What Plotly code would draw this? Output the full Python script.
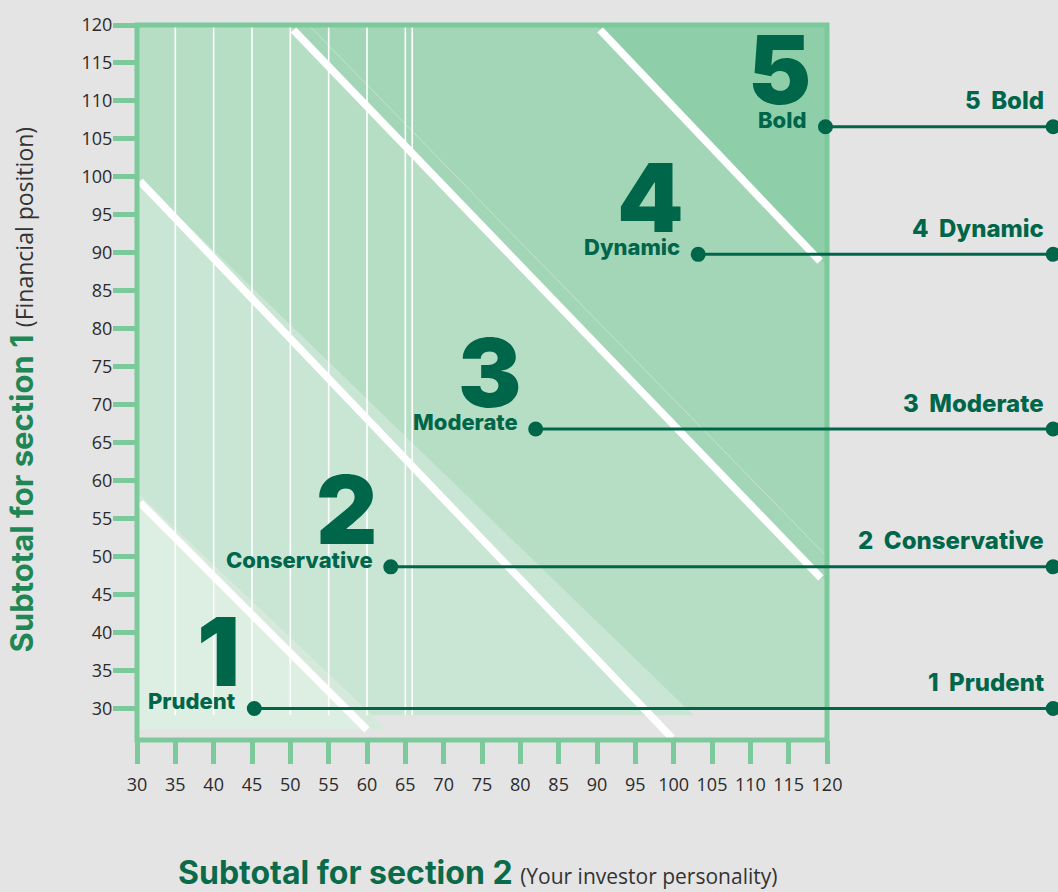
import plotly.graph_objects as go

# ---------------- data ----------------
x_ticks = list(range(30, 125, 5))
y_ticks = list(range(30, 125, 5))
X_RANGE = [30, 120]
Y_RANGE = [25.85, 120]

levels = ["Prudent", "Conservative", "Moderate", "Dynamic", "Bold"]
level_nums = ["1", "2", "3", "4", "5"]
dot_x = [45.3, 63.1, 82.0, 103.2, 119.8]
dot_y = [30.0, 48.65, 66.8, 89.8, 106.6]
leader_end_x = 149.5
right_label_x = 148.6

# zone polygons (data coordinates)
zone3_x = [30, 120, 120, 30]
zone3_y = [30, 30, 120, 120]
zone4_x = [49.9, 120, 120]
zone4_y = [120, 120, 46.6]
zone5_x = [89.9, 120, 120]
zone5_y = [120, 120, 88.3]
zone2_x = [30, 30, 102.6]
zone2_y = [100.1, 29.1, 29.1]
zone1s_x = [30, 30, 62.6]
zone1s_y = [58.5, 27.26, 27.26]
zone1_x = [30, 30, 60.4]
zone1_y = [57.6, 27.26, 27.26]

# white diagonal dividers: (x0, y0, x1, y1)
div_x0 = [30.4, 30.4, 50.4, 90.4]
div_y0 = [57.1, 99.4, 119.35, 119.35]
div_x1 = [60.0, 99.8, 119.2, 119.1]
div_y1 = [27.2, 26.1, 47.2, 88.9]

# faint edge next to divider 3
faint_x = [52.4, 120.0]
faint_y = [120.0, 50.0]

grid_x = [35, 40, 45, 50, 55, 60, 65, 65.9]
grid_y0 = 29.1
grid_y1 = 120

# ---------------- styles ----------------
BG = "#e4e4e4"
AXIS_GREEN = "#7cc99b"
DARK = "#00664a"
C1 = "#ddeee2"
C1S = "#d5eadb"
C2 = "#c9e5d4"
C3 = "#b6dec5"
C4 = "#a3d5b7"
C5 = "#8ecfa9"
HEAVY = "Inter"

L, R, T, B = 137, 231, 20, 152

fig = go.Figure()


def poly(xs, ys, color):
    fig.add_trace(go.Scatter(x=xs + [xs[0]], y=ys + [ys[0]], fill="toself",
                             fillcolor=color, mode="lines", line=dict(width=0),
                             hoverinfo="skip", showlegend=False))


poly(zone3_x, zone3_y, C3)
poly(zone4_x, zone4_y, C4)
poly(zone5_x, zone5_y, C5)
poly(zone2_x, zone2_y, C2)
poly(zone1s_x, zone1s_y, C1S)
poly(zone1_x, zone1_y, C1)

gx, gy = [], []
for v in grid_x:
    gx += [v, v, None]
    gy += [grid_y0, grid_y1, None]
fig.add_trace(go.Scatter(x=gx, y=gy, mode="lines",
                         line=dict(color="white", width=1.6),
                         hoverinfo="skip", showlegend=False))

fig.add_trace(go.Scatter(x=faint_x, y=faint_y, mode="lines",
                         line=dict(color="rgba(255,255,255,0.35)", width=1),
                         hoverinfo="skip", showlegend=False))

dx, dy = [], []
for a, b, c, d in zip(div_x0, div_y0, div_x1, div_y1):
    dx += [a, c, None]
    dy += [b, d, None]
fig.add_trace(go.Scatter(x=dx, y=dy, mode="lines",
                         line=dict(color="white", width=7.5),
                         hoverinfo="skip", showlegend=False))


def to_paper(v):
    return (v - X_RANGE[0]) / (X_RANGE[1] - X_RANGE[0])


# frame around the plotting area (centred on the axis extremes)
fig.add_shape(type="rect", xref="paper", yref="paper", x0=0, x1=1, y0=0, y1=1,
              line=dict(color=AXIS_GREEN, width=5), fillcolor="rgba(0,0,0,0)",
              layer="above")

# leader lines and dots
for xv, yv in zip(dot_x, dot_y):
    fig.add_shape(type="line", xref="paper", yref="y",
                  x0=to_paper(xv), x1=to_paper(leader_end_x), y0=yv, y1=yv,
                  line=dict(color=DARK, width=3), layer="above")
    for px in (xv, leader_end_x):
        fig.add_shape(type="circle", xref="paper", yref="y",
                      xsizemode="pixel", ysizemode="pixel",
                      xanchor=to_paper(px), yanchor=yv,
                      x0=-7.5, x1=7.5, y0=-7.5, y1=7.5,
                      fillcolor=DARK, line=dict(width=0), layer="above")

# labels inside chart and on the right
for name, num, xv, yv in zip(levels, level_nums, dot_x, dot_y):
    fig.add_annotation(x=xv, y=yv, xref="x", yref="y", text=name, showarrow=False,
                       xanchor="right", yanchor="middle", xshift=-16, yshift=7,
                       font=dict(family=HEAVY, size=22, color=DARK, weight=800))
    fig.add_annotation(x=xv, y=yv, xref="x", yref="y", text=num, showarrow=False,
                       xanchor="right", yanchor="middle", xshift=-12, yshift=57,
                       font=dict(family=HEAVY, size=95, color=DARK, weight=900))
    fig.add_annotation(x=to_paper(right_label_x), y=yv, xref="paper", yref="y",
                       text=num + "\u00a0\u00a0" + name, showarrow=False,
                       xanchor="right", yanchor="middle", yshift=26,
                       font=dict(family=HEAVY, size=24, color=DARK, weight=800))

# axis titles
fig.add_annotation(
    x=-0.167, y=0.490, xref="paper", yref="paper", textangle=-90, showarrow=False,
    xanchor="center", yanchor="middle",
    text="<b>Subtotal for section 1</b> <span style='font-family:Open Sans;font-size:23px;color:#333333;font-weight:400'>(Financial position)</span>",
    font=dict(family=HEAVY, size=31, color="#1f8656", weight=700))
fig.add_annotation(
    x=0.493, y=-0.185, xref="paper", yref="paper", showarrow=False,
    xanchor="center", yanchor="middle",
    text="<b>Subtotal for section 2</b> <span style='font-family:Open Sans;font-size:21px;color:#333333;font-weight:400'>(Your investor personality)</span>",
    font=dict(family=HEAVY, size=32, color="#0a6a4a", weight=700))

axis_common = dict(showgrid=False, zeroline=False, showline=False,
                   ticks="outside", ticklen=23, tickwidth=5, tickcolor=AXIS_GREEN,
                   tickfont=dict(family="Open Sans", size=18, color="#2b2b2b"))

fig.update_xaxes(range=X_RANGE, tickvals=x_ticks, ticktext=[str(v) for v in x_ticks],
                 ticklabelstandoff=5, **axis_common)
fig.update_yaxes(range=Y_RANGE, tickvals=y_ticks, ticktext=[str(v) for v in y_ticks],
                 ticklabelstandoff=-3, **axis_common)

fig.update_layout(width=1058, height=892, margin=dict(l=L, r=R, t=T, b=B),
                  paper_bgcolor=BG, plot_bgcolor=BG, showlegend=False)

fig.write_html("out.html", config={"displayModeBar": False},
               post_script="document.body.style.margin='0px';"
                           "document.body.style.background='#e4e4e4';"
                           "document.body.style.overflow='hidden';")
